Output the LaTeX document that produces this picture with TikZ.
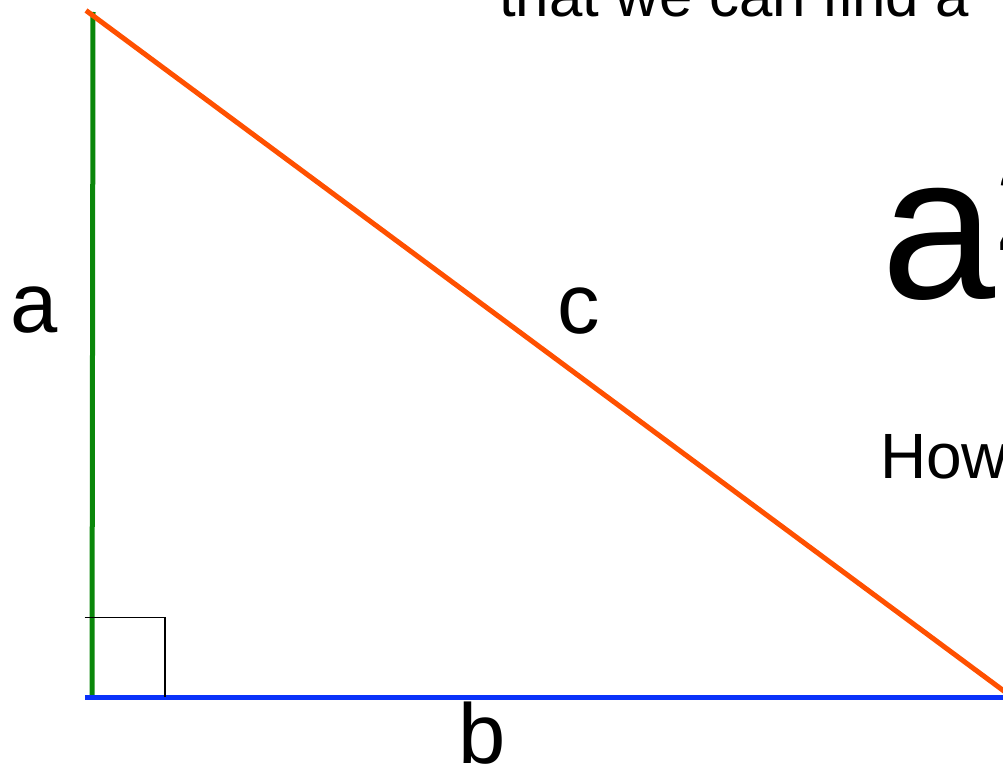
\documentclass[tikz,border=0pt]{standalone}
\usepackage{fontspec}
\setmainfont{Liberation Sans}
\definecolor{sidea}{RGB}{10,135,10}
\definecolor{sideb}{RGB}{10,50,250}
\definecolor{sidec}{RGB}{255,80,0}
\begin{document}
\begin{tikzpicture}[x=1pt,y=-1pt,
  txt/.style={inner sep=0pt,outer sep=0pt,anchor=base west,text=black},
  lbl/.style={txt,font=\fontsize{85}{100}\selectfont},
  side/.style={line width=5pt},
  rightbox/.style={line width=1.6pt,black}]
\useasboundingbox (0,0) rectangle (1003,765);
\clip (0,0) rectangle (1003,765);
% vertices
\coordinate (G1) at (93,12);
\coordinate (G2) at (92,697);
\coordinate (B1) at (85,697.5);
\coordinate (B2) at (1012,697.5);
\coordinate (O1) at (86,10.5);
\coordinate (O2) at (1012,697);
\coordinate (R1) at (84.5,617.5);
\coordinate (R2) at (165,617.5);
\coordinate (R3) at (165,697);
% sides
\draw[side,sidea] (G1) -- (G2);
\draw[side,sideb] (B1) -- (B2);
\draw[side,sidec] (O1) -- (O2);
\draw[rightbox] (R1) -- (R2) -- (R3);
% labels
\node[lbl] (la) at (10,332) {a};
\node[lbl] (lc) at (557,333) {c};
\node[lbl] (lb) at (458,763) {b};
% slide text
\node[txt,font=\fontsize{60}{70}\selectfont] (top) at (499,17) {that we can find a};
\node[txt,font=\fontsize{205}{240}\selectfont] (big) at (881,298) {a};
\node[txt,font=\fontsize{125}{150}\selectfont] (sq) at (994,250) {2};
\node[txt,font=\fontsize{64}{76}\selectfont] (how) at (880,478) {How};
\end{tikzpicture}
\end{document}
